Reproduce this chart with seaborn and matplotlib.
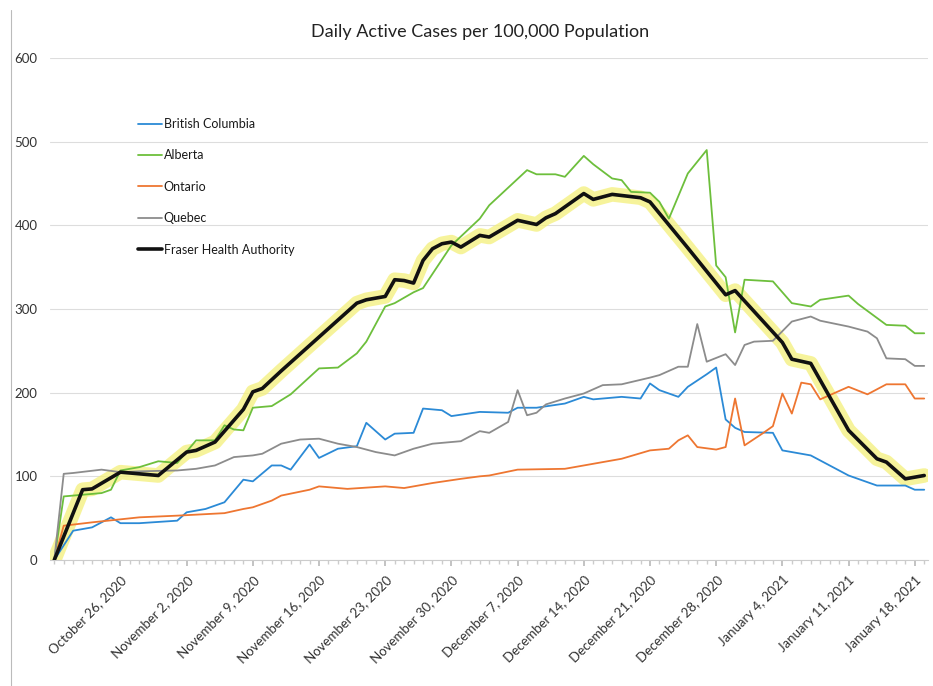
import matplotlib
matplotlib.use("Agg")
import matplotlib.pyplot as plt
from matplotlib.lines import Line2D
import seaborn as sns
import pandas as pd

# ---------------- data (day offsets from October 19, 2020) ----------------
start_date = "2020-10-19"

bc_days = [0, 2, 4, 6, 7, 9, 13, 14, 16, 18, 20, 21, 23, 24, 25, 27, 28, 30, 32, 33, 35, 36, 38, 39,
           41, 42, 45, 48, 49, 51, 54, 56, 57, 60, 62, 63, 64, 66, 67, 69, 70, 71, 72, 73, 76, 77,
           80, 82, 84, 87, 90, 91, 92]
bc_vals = [0, 35, 39, 51, 44, 44, 47, 57, 61, 69, 96, 94, 113, 113, 108, 138, 122, 133, 136, 164, 144,
           151, 152, 181, 179, 172, 177, 176, 182, 182, 187, 195, 192, 195, 193, 211, 203, 195, 207,
           222, 230, 168, 158, 153, 152, 131, 125, 113, 101, 89, 89, 84, 84]

ab_days = [0, 1, 3, 5, 6, 7, 9, 11, 13, 15, 17, 18, 19, 20, 21, 23, 25, 28, 30, 32, 33, 35, 36, 38,
           39, 42, 45, 46, 50, 51, 53, 54, 56, 57, 59, 60, 61, 63, 64, 65, 67, 69, 70, 71, 72, 73,
           76, 78, 80, 81, 84, 85, 88, 90, 91, 92]
ab_vals = [0, 76, 78, 80, 84, 107, 111, 118, 116, 143, 143, 161, 156, 155, 182, 184, 198, 229, 230,
           247, 261, 303, 307, 320, 325, 376, 408, 424, 466, 461, 461, 458, 483, 473, 456, 454, 440,
           439, 428, 408, 462, 490, 352, 338, 272, 335, 333, 307, 303, 311, 316, 306, 281, 280, 271,
           271]

on_days = [0, 1, 4, 9, 13, 18, 20, 21, 23, 24, 27, 28, 31, 35, 37, 40, 43, 45, 46, 49, 54, 57, 60,
           63, 65, 66, 67, 68, 70, 71, 72, 73, 75, 76, 77, 78, 79, 80, 81, 84, 86, 88, 90, 91, 92]
on_vals = [0, 41, 45, 51, 53, 56, 61, 63, 71, 77, 84, 88, 85, 88, 86, 92, 97, 100, 101, 108, 109,
           115, 121, 131, 133, 143, 149, 135, 132, 135, 193, 137, 152, 160, 199, 175, 212, 210, 192,
           207, 198, 210, 210, 193, 193]

qc_days = [0, 1, 2, 5, 7, 9, 13, 15, 17, 19, 21, 22, 23, 24, 26, 28, 30, 32, 34, 36, 38, 40, 43,
           45, 46, 48, 49, 50, 51, 52, 54, 56, 58, 60, 63, 64, 66, 67, 68, 69, 71, 72, 73, 74, 76,
           78, 80, 81, 84, 86, 87, 88, 90, 91, 92]
qc_vals = [0, 103, 104, 108, 105, 106, 107, 109, 113, 123, 125, 127, 133, 139, 144, 145, 139, 135,
           129, 125, 133, 139, 142, 154, 152, 165, 203, 173, 176, 186, 193, 199, 209, 210, 218, 221,
           231, 231, 282, 237, 246, 233, 257, 261, 262, 285, 291, 286, 279, 273, 265, 241, 240, 232,
           232]

fha_days = [0, 3, 4, 7, 9, 11, 14, 15, 17, 20, 21, 22, 24, 32, 33, 35, 36, 37, 38, 39, 40, 41, 42,
            43, 45, 46, 49, 51, 52, 53, 56, 57, 59, 62, 63, 67, 71, 72, 77, 78, 80, 84, 87, 88, 90,
            92]
fha_vals = [0, 84, 85, 105, 103, 101, 129, 131, 141, 180, 201, 205, 226, 307, 311, 315, 335, 334,
            331, 358, 372, 378, 380, 374, 388, 386, 406, 401, 409, 414, 438, 431, 437, 433, 428,
            373, 317, 322, 260, 240, 235, 155, 121, 117, 97, 101]

tick_dates = ["2020-10-26", "2020-11-02", "2020-11-09", "2020-11-16", "2020-11-23", "2020-11-30",
              "2020-12-07", "2020-12-14", "2020-12-21", "2020-12-28", "2021-01-04", "2021-01-11",
              "2021-01-18"]
tick_labels = ["October 26, 2020", "November 2, 2020", "November 9, 2020", "November 16, 2020",
               "November 23, 2020", "November 30, 2020", "December 7, 2020", "December 14, 2020",
               "December 21, 2020", "December 28, 2020", "January 4, 2021", "January 11, 2021",
               "January 18, 2021"]
y_ticks = [0, 100, 200, 300, 400, 500, 600]

title = "Daily Active Cases per 100,000 Population"

# ---------------- styling ----------------
sns.set_theme(style="white")
plt.rcParams["font.family"] = ["Lato", "DejaVu Sans"]

t0 = pd.Timestamp(start_date)


def to_dates(days):
    return t0 + pd.to_timedelta(days, unit="D")


fig = plt.figure(figsize=(9.33, 6.86), dpi=100)
W, H = 933, 686
ax_left, ax_right, ax_bottom, ax_top = 50, 928, 560, 58
ax = fig.add_axes([ax_left / W, 1 - ax_bottom / H, (ax_right - ax_left) / W, (ax_bottom - ax_top) / H])

# yellow highlighter under Fraser line
sns.lineplot(x=to_dates(fha_days), y=fha_vals, ax=ax, color="#f4f07a", lw=10.5, alpha=0.75,
             solid_capstyle="round", solid_joinstyle="round", sort=False, label="_nolegend_",
             zorder=1)

series = [
    ("British Columbia", bc_days, bc_vals, "#2b8ad6", 1.3),
    ("Alberta", ab_days, ab_vals, "#6dbf3c", 1.3),
    ("Ontario", on_days, on_vals, "#ee7631", 1.3),
    ("Quebec", qc_days, qc_vals, "#8c8c8c", 1.3),
    ("Fraser Health Authority", fha_days, fha_vals, "#111111", 2.6),
]
for name, d, v, c, lw in series:
    sns.lineplot(x=to_dates(d), y=v, ax=ax, color=c, lw=lw, sort=False, label=name,
                 solid_joinstyle="round", zorder=3)

ax.set_ylim(0, 600)
ax.set_xlim(t0 - pd.Timedelta(days=0.45), t0 + pd.Timedelta(days=92.4))
ax.set_yticks(y_ticks)
ax.set_yticklabels([str(v) for v in y_ticks], fontsize=9.5, color="#333333")
ax.set_xticks(pd.to_datetime(tick_dates))
ax.set_xticklabels(tick_labels, rotation=45, ha="right", rotation_mode="anchor",
                   fontsize=9.5, color="#333333")
ax.set_xticks(to_dates(list(range(0, 93))), minor=True)
ax.tick_params(axis="y", length=0, pad=9)
ax.tick_params(axis="x", which="major", length=4, color="#bbbbbb", pad=6, direction="out")
ax.tick_params(axis="x", which="minor", length=3, color="#cccccc", direction="out")
ax.xaxis.set_tick_params(bottom=True, which="both")
ax.set_xlabel("")
ax.set_ylabel("")

ax.grid(axis="y", color="#dddddd", lw=0.8)
ax.grid(axis="x", visible=False)
for s in ["left", "right", "top"]:
    ax.spines[s].set_visible(False)
ax.spines["bottom"].set_color("#cccccc")
ax.spines["bottom"].set_linewidth(0.8)

leg = ax.legend(loc="upper left", bbox_to_anchor=((138 - ax_left) / (ax_right - ax_left),
                                                  (ax_bottom - 118) / (ax_bottom - ax_top)),
                frameon=False, fontsize=9, handlelength=1.9, handletextpad=0.15,
                labelspacing=1.55, borderpad=0, borderaxespad=0)
for t in leg.get_texts():
    t.set_color("#1a1a1a")

fig.text(480 / W, 1 - 32 / H, title, ha="center", va="center", fontsize=13, color="#222222")

# scanned page border on the left
fig.add_artist(Line2D([11 / W, 11 / W], [0, 1 - 10 / H], color="#bbbbbb", lw=0.8))

fig.savefig("out.png", dpi=100)
